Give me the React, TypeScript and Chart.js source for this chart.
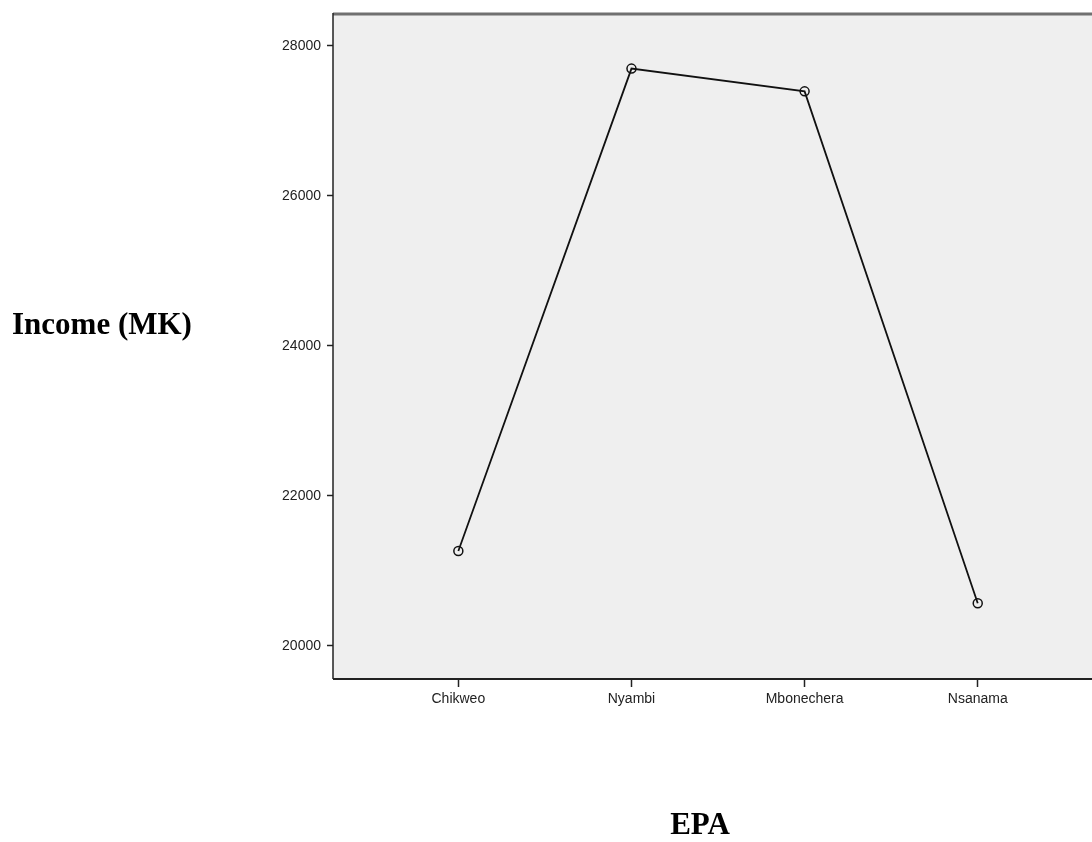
import React, { useEffect, useRef } from "react";
import { Chart, registerables } from "chart.js";

Chart.register(...registerables);

const categories: string[] = ["Chikweo", "Nyambi", "Mbonechera", "Nsanama"];
const incomeValues: number[] = [21266, 27697, 27394, 20569];
const yTickValues: number[] = [20000, 22000, 24000, 26000, 28000];
const yAxisTitle = "Income (MK)";
const xAxisTitle = "EPA";

const plotFrame = {
  id: "plotFrame",
  beforeDraw(chart: any) {
    const { ctx, chartArea } = chart;
    const { left, top, right, bottom } = chartArea;
    ctx.save();
    ctx.fillStyle = "#efefef";
    ctx.fillRect(left, top, right - left, bottom - top);
    ctx.restore();
  },
  afterDraw(chart: any) {
    const { ctx, chartArea } = chart;
    const { left, top, right, bottom } = chartArea;
    ctx.save();
    ctx.strokeStyle = "#707070";
    ctx.lineWidth = 3;
    ctx.beginPath();
    ctx.moveTo(left, top);
    ctx.lineTo(right, top);
    ctx.stroke();
    ctx.strokeStyle = "#222";
    ctx.lineWidth = 1.5;
    ctx.beginPath();
    ctx.moveTo(left, top - 1);
    ctx.lineTo(left, bottom);
    ctx.stroke();
    ctx.lineWidth = 2;
    ctx.beginPath();
    ctx.moveTo(left, bottom);
    ctx.lineTo(right, bottom);
    ctx.stroke();
    ctx.restore();
  },
};

export default function App() {
  const ref = useRef<HTMLCanvasElement | null>(null);
  useEffect(() => {
    if (!ref.current) return;
    const chart = new Chart(ref.current, {
      type: "line",
      data: {
        datasets: [
          {
            data: incomeValues.map((v, i) => ({ x: i, y: v })),
            borderColor: "#111",
            borderWidth: 1.8,
            pointRadius: 4.5,
            pointBorderWidth: 1.5,
            pointBorderColor: "#111",
            pointBackgroundColor: "rgba(0,0,0,0)",
            fill: false,
            tension: 0,
          },
        ],
      },
      plugins: [plotFrame],
      options: {
        animation: false,
        responsive: false,
        maintainAspectRatio: false,
        layout: { autoPadding: false, padding: { top: 14, left: 0, right: 0, bottom: 0 } },
        plugins: { legend: { display: false }, tooltip: { enabled: false } },
        scales: {
          x: {
            type: "linear",
            min: -0.724,
            max: 3.66,
            afterBuildTicks: (scale: any) => {
              scale.ticks = categories.map((_, i) => ({ value: i }));
            },
            afterFit: (scale: any) => {
              scale.height = 163;
              scale.paddingLeft = 0;
              scale.paddingRight = 0;
            },
            ticks: {
              autoSkip: false,
              maxRotation: 0,
              padding: 4,
              color: "#222",
              font: { family: "'Liberation Sans', Arial, sans-serif", size: 14 },
              callback: (v: any) => categories[Math.round(Number(v))] ?? "",
            },
            grid: {
              display: true,
              drawOnChartArea: false,
              drawTicks: true,
              tickLength: 8,
              tickWidth: 1.5,
              tickColor: "#222",
            },
            border: { display: false },
          },
          y: {
            type: "linear",
            min: 19560,
            max: 28425,
            afterBuildTicks: (scale: any) => {
              scale.ticks = yTickValues.map((v) => ({ value: v }));
            },
            afterFit: (scale: any) => {
              scale.width = 333;
              scale.paddingTop = 0;
              scale.paddingBottom = 0;
            },
            ticks: {
              padding: 6,
              color: "#222",
              font: { family: "'Liberation Sans', Arial, sans-serif", size: 14 },
              callback: (v: any) => String(v),
            },
            grid: {
              display: true,
              drawOnChartArea: false,
              drawTicks: true,
              tickLength: 6,
              tickWidth: 1.5,
              tickColor: "#222",
            },
            border: { display: false },
          },
        },
      },
    });
    return () => chart.destroy();
  }, []);

  return (
    <div style={{ position: "fixed", left: 0, top: 0, width: 1092, height: 842, background: "#fff" }}>
      <canvas ref={ref} width={1092} height={842} style={{ position: "absolute", left: 0, top: 0 }} />
      <div
        style={{
          position: "absolute",
          left: 12,
          top: 306,
          fontFamily: "'Liberation Serif', 'Times New Roman', serif",
          fontWeight: "bold",
          fontSize: 31,
          color: "#000",
          whiteSpace: "nowrap",
        }}
      >
        {yAxisTitle}
      </div>
      <div
        style={{
          position: "absolute",
          left: 0,
          width: 1400,
          top: 806,
          textAlign: "center",
          fontFamily: "'Liberation Serif', 'Times New Roman', serif",
          fontWeight: "bold",
          fontSize: 31,
          color: "#000",
        }}
      >
        {xAxisTitle}
      </div>
    </div>
  );
}
